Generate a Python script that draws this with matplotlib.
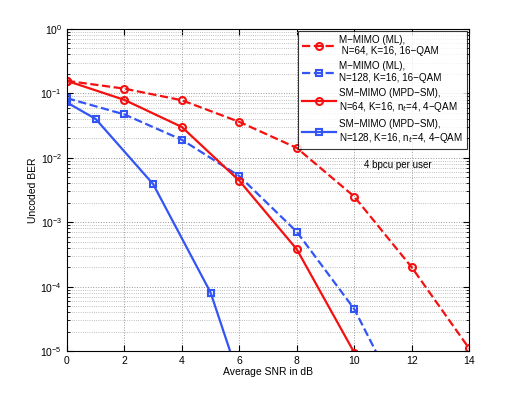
import numpy as np
import matplotlib.pyplot as plt
from matplotlib.ticker import LogLocator, NullFormatter

snr_ml = [0, 2, 4, 6, 8, 10, 12, 14]
ber_ml_64 = [0.156, 0.118, 0.078, 0.036, 0.0142, 0.0025, 2.0e-4, 1.1e-5]
snr_ml128 = [0, 2, 4, 6, 8, 10, 12]
ber_ml_128 = [0.084, 0.047, 0.019, 0.0052, 7.1e-4, 4.5e-5, 8e-7]
snr_sm64 = [0, 2, 4, 6, 8, 10]
ber_sm_64 = [0.156, 0.079, 0.030, 0.0044, 3.8e-4, 9.5e-6]
snr_sm128 = [0, 1, 3, 5, 7]
ber_sm_128 = [0.072, 0.040, 0.0039, 8.1e-5, 1.7e-7]

labels = ["M\u2212MIMO (ML),\n N=64, K=16, 16\u2212QAM",
          "M\u2212MIMO (ML),\nN=128, K=16, 16\u2212QAM",
          "SM\u2212MIMO (MPD\u2212SM),\nN=64, K=16, n$_t$=4, 4\u2212QAM",
          "SM\u2212MIMO (MPD\u2212SM),\nN=128, K=16, n$_t$=4, 4\u2212QAM"]

red = '#f51010'
blue = '#3355f5'

plt.rcParams['font.family'] = ['Liberation Sans', 'DejaVu Sans']
plt.rcParams['mathtext.fontset'] = 'custom'
plt.rcParams['mathtext.rm'] = 'Liberation Sans'
plt.rcParams['font.size'] = 7.5

fig = plt.figure(figsize=(5.19, 3.95), dpi=100)
ax = fig.add_axes([0.129, 0.111, 0.775, 0.816])

ax.semilogy(snr_ml, ber_ml_64, '--o', color=red, lw=1.6, ms=5, mfc='none', mew=1.5, label=labels[0])
ax.semilogy(snr_ml128, ber_ml_128, '--s', color=blue, lw=1.6, ms=4.5, mfc='none', mew=1.5, label=labels[1])
ax.semilogy(snr_sm64, ber_sm_64, '-o', color=red, lw=1.6, ms=5, mfc='none', mew=1.5, label=labels[2])
ax.semilogy(snr_sm128, ber_sm_128, '-s', color=blue, lw=1.6, ms=4.5, mfc='none', mew=1.5, label=labels[3])

ax.set_xlim(0, 14)
ax.set_ylim(1e-5, 1)
ax.set_xticks(range(0, 15, 2))
ax.yaxis.set_major_locator(LogLocator(base=10, numticks=10))
ax.yaxis.set_minor_locator(LogLocator(base=10, subs=np.arange(2, 10), numticks=20))
ax.yaxis.set_minor_formatter(NullFormatter())
ax.tick_params(which='both', direction='in', top=True, right=True)
ax.tick_params(which='major', length=4)
ax.tick_params(which='minor', length=2)
ax.grid(which='major', ls=':', color='#999999', lw=0.7)
ax.grid(which='minor', axis='y', ls=':', color='#aaaaaa', lw=0.6)
for s in ax.spines.values():
    s.set_linewidth(0.8)

ax.set_xlabel("Average SNR in dB", labelpad=1)
ax.set_ylabel("Uncoded BER", labelpad=2)
ax.text(10.35, 6.9e-3, "4 bpcu per user", fontsize=7)

leg = ax.legend(loc='upper right', fontsize=7.1, frameon=True, fancybox=False,
                edgecolor='black', handlelength=3.4, labelspacing=0.5,
                borderpad=0.4, handletextpad=0.35, borderaxespad=0.2)
leg.get_frame().set_linewidth(0.8)

fig.savefig("out.png", dpi=100)
